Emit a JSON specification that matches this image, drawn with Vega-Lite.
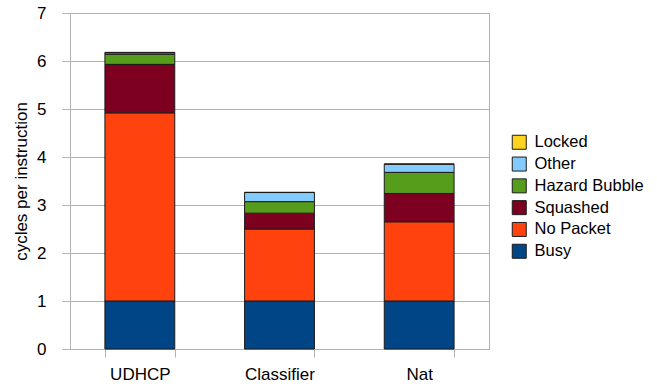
{
  "$schema": "https://vega.github.io/schema/vega-lite/v6.json",
  "width": 419,
  "height": 336,
  "autosize": {"type": "none"},
  "padding": {"left": 70, "top": 13, "right": 168, "bottom": 37},
  "background": "white",
  "config": {
    "font": "Liberation Sans",
    "view": {"stroke": "#b3b3b3", "strokeWidth": 1}
  },
  "data": {
    "values": [
      {"app": "UDHCP", "cat": "Busy", "ord": 1, "v": 1.0},
      {"app": "UDHCP", "cat": "No Packet", "ord": 2, "v": 3.92},
      {"app": "UDHCP", "cat": "Squashed", "ord": 3, "v": 1.01},
      {"app": "UDHCP", "cat": "Hazard Bubble", "ord": 4, "v": 0.21},
      {"app": "UDHCP", "cat": "Other", "ord": 5, "v": 0.03},
      {"app": "UDHCP", "cat": "Locked", "ord": 6, "v": 0.01},
      {"app": "Classifier", "cat": "Busy", "ord": 1, "v": 1.0},
      {"app": "Classifier", "cat": "No Packet", "ord": 2, "v": 1.5},
      {"app": "Classifier", "cat": "Squashed", "ord": 3, "v": 0.33},
      {"app": "Classifier", "cat": "Hazard Bubble", "ord": 4, "v": 0.24},
      {"app": "Classifier", "cat": "Other", "ord": 5, "v": 0.19},
      {"app": "Classifier", "cat": "Locked", "ord": 6, "v": 0.005},
      {"app": "Nat", "cat": "Busy", "ord": 1, "v": 1.0},
      {"app": "Nat", "cat": "No Packet", "ord": 2, "v": 1.65},
      {"app": "Nat", "cat": "Squashed", "ord": 3, "v": 0.59},
      {"app": "Nat", "cat": "Hazard Bubble", "ord": 4, "v": 0.44},
      {"app": "Nat", "cat": "Other", "ord": 5, "v": 0.17},
      {"app": "Nat", "cat": "Locked", "ord": 6, "v": 0.005}
    ]
  },
  "mark": {"type": "bar", "stroke": "#1a1a1a", "strokeWidth": 1},
  "encoding": {
    "x": {
      "field": "app",
      "type": "nominal",
      "sort": ["UDHCP", "Classifier", "Nat"],
      "scale": {"paddingInner": 0.5, "paddingOuter": 0.25},
      "axis": {
        "title": null,
        "labelAngle": 0,
        "labelFontSize": 17,
        "labelColor": "black",
        "labelPadding": 9,
        "tickBand": "extent",
        "tickSize": 8,
        "tickColor": "#b3b3b3",
        "domainColor": "#b3b3b3",
        "grid": false
      }
    },
    "y": {
      "field": "v",
      "type": "quantitative",
      "stack": "zero",
      "scale": {"domain": [0, 7], "nice": false},
      "axis": {
        "title": "cycles per instruction",
        "titleFontSize": 17,
        "titleFontWeight": "normal",
        "titleColor": "black",
        "titlePadding": 6,
        "values": [0, 1, 2, 3, 4, 5, 6, 7],
        "labelFontSize": 17,
        "labelColor": "black",
        "labelPadding": 16,
        "tickSize": 8,
        "tickColor": "#b3b3b3",
        "domainColor": "#b3b3b3",
        "gridColor": "#b3b3b3",
        "grid": true
      }
    },
    "color": {
      "field": "cat",
      "type": "nominal",
      "scale": {
        "domain": ["Locked", "Other", "Hazard Bubble", "Squashed", "No Packet", "Busy"],
        "range": ["#ffd320", "#83caff", "#579d1c", "#7e0021", "#ff420e", "#004586"]
      },
      "legend": {
        "title": null,
        "orient": "none",
        "legendX": 441,
        "legendY": 121,
        "symbolType": "square",
        "symbolSize": 196,
        "symbolStrokeColor": "#1a1a1a",
        "symbolStrokeWidth": 1,
        "symbolOpacity": 1,
        "labelFontSize": 16.5,
        "labelColor": "black",
        "labelOffset": 7,
        "rowPadding": 2.8,
        "labelLimit": 200
      }
    },
    "order": {"field": "ord", "type": "quantitative"}
  }
}
